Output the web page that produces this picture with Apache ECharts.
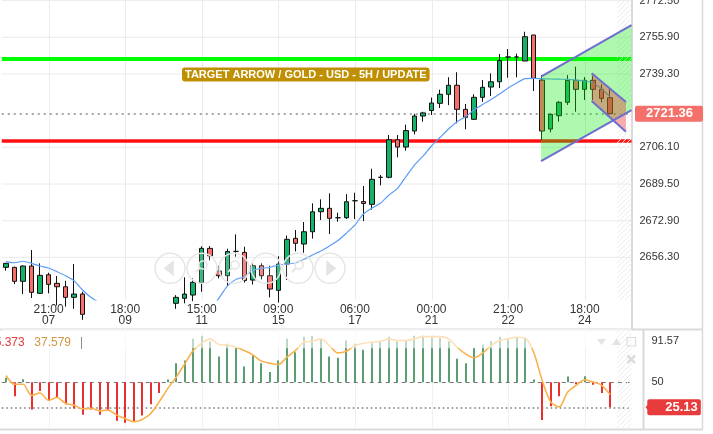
<!DOCTYPE html>
<html><head><meta charset="utf-8">
<script src="https://cdn.jsdelivr.net/npm/echarts@6/dist/echarts.min.js"></script>
<style>html,body{margin:0;padding:0;background:#fff}#c{width:713px;height:434px}</style>
</head><body><div id="c"></div>
<script>
// ---------- data ----------
const slotCount = 74;
const tickIndex = [5, 14, 23, 32, 41, 50, 59, 68];
const tickTime = ['21:00', '18:00', '15:00', '09:00', '06:00', '00:00', '21:00', '18:00'];
const tickDay = ['07', '09', '11', '15', '17', '21', '22', '24'];
const priceTicks = [2656.30, 2672.90, 2689.50, 2706.10, 2739.30, 2755.90, 2772.50];
const oscTicks = [50, 91.57];
// [open, close, low, high]
const candles = [
  [2651.78, 2653.59, 2650.24, 2653.80], [2651.78, 2645.45, 2644.22, 2652.05], [2645.45, 2652.37, 2639.70, 2652.69],
  [2652.37, 2640.47, 2637.90, 2659.61], [2640.01, 2648.16, 2639.70, 2653.59], [2648.43, 2644.09, 2640.01, 2649.34],
  [2644.54, 2643.00, 2634.50, 2647.84], [2643.00, 2638.20, 2634.00, 2645.72], [2638.20, 2639.70, 2633.00, 2653.28],
  [2639.70, 2630.50, 2628.00, 2640.74], [2630.00, 2625.00, 2621.00, 2633.00], [2625.00, 2619.00, 2615.00, 2628.00],
  [2619.00, 2622.00, 2616.00, 2625.00], [2622.00, 2612.00, 2609.00, 2624.00], [2612.00, 2608.00, 2604.00, 2615.00],
  [2608.00, 2611.00, 2605.00, 2614.00], [2611.00, 2617.00, 2609.00, 2620.00], [2617.00, 2624.00, 2615.00, 2627.00],
  [2624.00, 2630.00, 2622.00, 2633.00], [2630.00, 2634.00, 2628.00, 2636.00], [2635.50, 2638.20, 2633.00, 2639.20],
  [2637.75, 2639.70, 2635.50, 2647.26], [2639.24, 2644.99, 2636.50, 2646.80], [2644.90, 2660.38, 2640.74, 2661.30],
  [2660.38, 2657.00, 2654.95, 2661.43], [2650.11, 2647.98, 2646.80, 2652.51], [2647.98, 2658.95, 2643.20, 2660.20],
  [2659.00, 2659.00, 2656.58, 2666.72], [2658.57, 2645.80, 2644.90, 2661.11], [2646.03, 2652.51, 2644.00, 2653.59],
  [2652.51, 2647.98, 2646.30, 2653.59], [2647.98, 2641.96, 2638.20, 2652.50], [2641.37, 2653.28, 2635.80, 2656.80],
  [2653.28, 2664.46, 2646.03, 2666.20], [2664.91, 2662.65, 2659.00, 2668.67], [2662.33, 2667.90, 2658.39, 2672.30],
  [2667.90, 2676.95, 2664.80, 2680.76], [2676.95, 2678.49, 2673.20, 2682.57], [2678.49, 2673.97, 2666.86, 2685.28],
  [2674.24, 2674.24, 2672.43, 2676.50], [2674.24, 2681.48, 2673.65, 2684.90], [2681.93, 2681.93, 2673.65, 2685.55],
  [2681.57, 2680.67, 2672.70, 2688.59], [2680.30, 2691.62, 2677.90, 2696.40], [2692.53, 2692.53, 2688.90, 2693.57],
  [2692.53, 2709.55, 2692.07, 2711.68], [2709.55, 2706.24, 2701.58, 2711.68], [2706.24, 2713.70, 2704.57, 2716.40],
  [2713.49, 2720.28, 2711.99, 2721.30], [2720.28, 2721.70, 2717.70, 2722.22], [2722.77, 2726.16, 2720.73, 2728.65],
  [2726.03, 2730.14, 2723.90, 2732.20], [2730.10, 2734.20, 2725.20, 2737.84], [2734.20, 2723.31, 2716.97, 2740.10],
  [2723.31, 2719.69, 2714.26, 2725.70], [2718.78, 2728.74, 2718.46, 2730.14], [2728.74, 2733.27, 2726.75, 2736.57],
  [2733.40, 2735.80, 2729.33, 2739.60], [2735.80, 2745.40, 2732.95, 2748.34], [2746.99, 2746.99, 2737.62, 2750.61],
  [2747.00, 2747.00, 2737.80, 2748.50], [2745.18, 2756.18, 2745.18, 2758.44], [2756.95, 2737.34, 2731.59, 2756.95],
  [2736.57, 2713.49, 2709.41, 2738.84], [2714.39, 2721.05, 2712.90, 2721.50], [2720.41, 2726.48, 2717.70, 2727.07],
  [2726.48, 2736.44, 2725.26, 2738.84], [2736.44, 2732.36, 2722.22, 2742.60], [2732.36, 2736.44, 2727.52, 2737.90],
  [2736.44, 2732.36, 2727.52, 2738.50], [2732.36, 2728.29, 2726.48, 2734.63], [2728.56, 2721.36, 2721.20, 2732.50]
];
const movingAvg = [
  2654.41, 2653.87, 2654.54, 2653.59, 2652.37, 2651.47, 2649.79, 2647.98, 2645.72, 2641.51, 2638.11, 2635.62,
  2632.5, 2629.5, 2627.0, 2625.0, 2623.5, 2622.5, 2622.5, 2623.0, 2624.0, 2625.5, 2627.5, 2630.0,
  2633.0, 2637.75, 2643.32, 2646.26, 2647.53, 2650.42, 2651.33, 2651.78, 2652.82, 2653.28, 2653.73, 2655.40,
  2657.35, 2659.16, 2661.43, 2663.92, 2667.31, 2670.93, 2675.91, 2678.63, 2680.76, 2684.51, 2687.55, 2692.89,
  2698.09, 2702.17, 2706.70, 2710.54, 2714.39, 2717.70, 2719.96, 2722.99, 2725.48, 2727.75, 2730.24, 2732.95,
  2735.22, 2737.25, 2737.34, 2737.16, 2737.03, 2736.94, 2736.85, 2736.57, 2736.12, 2735.22, 2732.50, 2728.88
];
const oscValue = [
  54.6, 36.0, 53.0, 23.0, 41.4, 31.5, 34.8, 28.2, 24.0, 17.6, 23.0, 17.6, 21.6, 11.7, 9.7, 10.4, 17.0, 28.2,
  39.4, 52.7, 69.1, 71.8, 93.3, 96.5, 90.9, 75.7, 88.3, 85.0, 65.8, 76.7, 69.0, 60.2, 71.8, 93.3, 80.0, 95.5,
  96.5, 93.3, 75.7, 74.4, 91.6, 88.3, 82.4, 88.9, 90.9, 95.5, 90.9, 91.6, 96.5, 96.5, 94.9, 94.2, 90.9, 73.4,
  69.1, 84.3, 87.6, 90.9, 95.5, 93.3, 94.9, 93.3, 52.7, 12.4, 26.2, 36.1, 55.9, 48.0, 56.0, 47.6, 39.4, 25.13
];
const oscSignal = [
  56.8, 48.0, 48.0, 37.0, 39.4, 32.1, 34.8, 28.9, 27.2, 23.6, 24.0, 21.6, 22.3, 17.3, 14.0, 10.7, 13.0, 19.0,
  30.5, 43.7, 55.2, 68.4, 81.6, 88.9, 93.3, 87.6, 87.2, 84.9, 81.6, 77.3, 71.1, 69.1, 67.7, 75.0, 81.6, 89.9,
  90.9, 93.3, 86.6, 79.3, 81.0, 86.6, 88.9, 89.9, 90.9, 93.3, 91.6, 91.6, 93.3, 95.5, 95.5, 95.5, 93.3, 84.9,
  78.3, 74.4, 79.0, 86.6, 91.6, 93.3, 94.9, 94.2, 80.0, 52.0, 30.5, 25.5, 40.4, 47.0, 52.6, 50.3, 47.0, 37.579
];
const resistanceLevel = 2746.1;
const supportLevel = 2709.1;
const lastPrice = 2721.36;
const lastOsc = 25.13;
const oscMid = 50;
const oscPaleAbove = 84;
const oscLegend = ['25.373', '37.579'];
// channel anchors: [slot index, price]
const bigChannel = [[62.87, 2738.07], [73.5, 2761.47], [73.5, 2722.99], [62.87, 2699.90]];
const smallWedge = [[68.82, 2739.61], [72.85, 2726.61], [72.85, 2713.17], [68.82, 2727.07]];
const futureFrom = 71.8;
const titleText = 'TARGET ARROW / GOLD - USD - 5H / UPDATE';

// ---------- chart ----------
const FONT = "'Liberation Sans', Arial, sans-serif";
const cats = Array.from({length: slotCount}, (_, i) => String(i));
const chart = echarts.init(document.getElementById('c'), null, {renderer: 'canvas'});

const pc = document.createElement('canvas');
pc.width = 5; pc.height = 5;
const g = pc.getContext('2d');
g.strokeStyle = '#ececec'; g.lineWidth = 1;
g.beginPath(); g.moveTo(-1, 6); g.lineTo(6, -1); g.stroke();
const hatchPattern = {image: pc, repeat: 'repeat'};

function vLines(color) {
  return function (params, api) {
    const cs = params.coordSys;
    const x = Math.round(api.coord([api.value(0), api.value(1)])[0]) + 0.5;
    return {type: 'line', shape: {x1: x, y1: cs.y, x2: x, y2: cs.y + cs.height}, style: {stroke: color, lineWidth: 1}};
  };
}
function hLines(params, api) {
  const cs = params.coordSys;
  const y = api.coord([0, api.value(1)])[1];
  return {type: 'line', shape: {x1: cs.x, y1: y, x2: cs.x + cs.width, y2: y}, style: {stroke: '#ebebeb', lineWidth: 1}};
}
function renderChannel(params, api) {
  const p = bigChannel.map(v => api.coord(v));
  const s = smallWedge.map(v => api.coord(v));
  const edge = (a, b) => ({type: 'line', shape: {x1: a[0], y1: a[1], x2: b[0], y2: b[1]}, style: {stroke: '#6e6ed0', lineWidth: 2}});
  return {type: 'group', children: [
    {type: 'polygon', shape: {points: p}, style: {fill: 'rgba(20,235,20,0.34)'}},
    {type: 'polygon', shape: {points: s}, style: {fill: 'rgba(235,45,45,0.38)'}},
    edge(p[0], p[1]), edge(p[3], p[2]), edge(s[0], s[1]), edge(s[3], s[2])
  ]};
}
function renderHatch(params, api) {
  const cs = params.coordSys;
  const x0 = api.coord([api.value(0), api.value(1)])[0];
  return {type: 'rect', shape: {x: x0, y: cs.y, width: cs.x + cs.width - x0, height: cs.height}, style: {fill: hatchPattern}};
}
function renderHisto(params, api) {
  const i = api.value(0), v = api.value(1);
  const a = api.coord([i, oscMid]), b = api.coord([i, v]);
  const x = Math.round(a[0]);
  return {type: 'line', shape: {x1: x, y1: a[1], x2: x, y2: b[1]},
    style: {stroke: v >= oscMid ? '#5a9e72' : '#e8302f', lineWidth: 2}};
}
function renderPale(params, api) {
  const cs = params.coordSys;
  const yb = api.coord([0, api.value(1)])[1];
  return {type: 'rect', shape: {x: cs.x, y: cs.y, width: cs.width, height: yb - cs.y}, style: {fill: 'rgba(255,255,255,0.6)'}};
}

const gridLine = '#d9d9d9';
const graphics = [
  {type: 'line', shape: {x1: 632, y1: 0, x2: 632, y2: 329}, style: {stroke: gridLine, lineWidth: 2}},
  {type: 'line', shape: {x1: 702.5, y1: 0, x2: 702.5, y2: 429}, style: {stroke: gridLine, lineWidth: 1.5}},
  {type: 'line', shape: {x1: 0, y1: 329.5, x2: 703, y2: 329.5}, style: {stroke: gridLine, lineWidth: 2}},
  {type: 'line', shape: {x1: 0, y1: 429.5, x2: 703, y2: 429.5}, style: {stroke: gridLine, lineWidth: 2}},
  {type: 'line', shape: {x1: 643.5, y1: 329, x2: 643.5, y2: 430}, style: {stroke: gridLine, lineWidth: 2}},
  {type: 'text', z: 50, style: {text: titleText, x: 182, y: 67.5, fill: '#fff', font: 'bold 11px ' + FONT,
    backgroundColor: '#bf8f00', padding: [2, 3, 1, 3], borderRadius: 3}},
  {type: 'text', z: 50, style: {text: oscLegend[0], x: -12, y: 343, verticalAlign: 'middle', fill: '#e53935', font: '12px ' + FONT}},
  {type: 'text', z: 50, style: {text: oscLegend[1], x: 34.3, y: 343, verticalAlign: 'middle', fill: '#d29646', font: '12px ' + FONT}},
  {type: 'text', z: 50, style: {text: '|', x: 80, y: 343, verticalAlign: 'middle', fill: '#888', font: '12px ' + FONT}},
  // indicator pane tool icons
  {type: 'polygon', z: 50, shape: {points: [[597, 339], [606, 339], [601.5, 345]]}, style: {fill: '#e3e3e3'}},
  {type: 'polygon', z: 50, shape: {points: [[612, 345], [621, 345], [616.5, 338]]}, style: {fill: '#e3e3e3'}},
  {type: 'rect', z: 50, shape: {x: 627, y: 337.5, width: 8.5, height: 8.5}, style: {fill: 'none', stroke: '#dcdcdc', lineWidth: 1.2}},
  {type: 'line', z: 50, shape: {x1: 627.5, y1: 355.5, x2: 635, y2: 363}, style: {stroke: '#dcdcdc', lineWidth: 2.5}},
  {type: 'line', z: 50, shape: {x1: 635, y1: 355.5, x2: 627.5, y2: 363}, style: {stroke: '#dcdcdc', lineWidth: 2.5}}
];
// navigation buttons
[170, 202, 234, 266, 298, 330].forEach((cx, k) => {
  graphics.push({type: 'circle', z: 40, shape: {cx: cx, cy: 268.3, r: 15}, style: {fill: 'rgba(255,255,255,0.15)', stroke: '#e6e6e6', lineWidth: 1.5}});
  const ic = {z: 41, style: {fill: '#e4e4e4', stroke: '#e4e4e4', lineWidth: 1.6}};
  if (k === 0) graphics.push(Object.assign({type: 'polygon', shape: {points: [[cx - 5, 268.3], [cx + 3, 262], [cx + 3, 274.6]]}}, ic));
  else if (k === 5) graphics.push(Object.assign({type: 'polygon', shape: {points: [[cx + 5, 268.3], [cx - 3, 262], [cx - 3, 274.6]]}}, ic));
  else if (k !== 3) {
    graphics.push({type: 'circle', z: 41, shape: {cx: cx + 1, cy: 265, r: 4}, style: {fill: 'none', stroke: '#e4e4e4', lineWidth: 1.6}});
    graphics.push({type: 'line', z: 41, shape: {x1: cx - 2, y1: 268, x2: cx - 6, y2: 272}, style: {stroke: '#e4e4e4', lineWidth: 1.8}});
  }
});

const option = {
  animation: false,
  backgroundColor: '#fff',
  textStyle: {fontFamily: FONT},
  grid: [
    {left: 1.75, top: 0, width: 629.75, height: 300, outerBoundsMode: 'none', containLabel: false},
    {left: 1.75, top: 329, width: 629.75, height: 100, outerBoundsMode: 'none', containLabel: false}
  ],
  xAxis: [
    {type: 'category', gridIndex: 0, data: cats, boundaryGap: true,
      axisLine: {show: false}, axisTick: {show: false}, splitLine: {show: false},
      axisLabel: {interval: (i) => tickIndex.includes(i), color: '#333', fontSize: 12, lineHeight: 11, margin: 4,
        formatter: (v, i) => { const k = tickIndex.indexOf(i); return k < 0 ? '' : tickTime[k] + '\n' + tickDay[k]; }}},
    {type: 'category', gridIndex: 1, data: cats, boundaryGap: true, show: false},
    {type: 'value', gridIndex: 0, min: -0.5, max: slotCount - 0.5, show: false},
    {type: 'value', gridIndex: 1, min: -0.5, max: slotCount - 0.5, show: false}
  ],
  yAxis: [
    {type: 'value', gridIndex: 0, position: 'right', min: 2637.0, max: 2772.8,
      axisLine: {show: false}, axisTick: {show: false}, splitLine: {show: false},
      axisLabel: {customValues: priceTicks, formatter: v => v.toFixed(2), color: '#333', fontSize: 11, margin: 8}},
    {type: 'value', gridIndex: 1, position: 'right', min: 3.5, max: 103.1,
      axisLine: {show: false}, axisTick: {show: false}, splitLine: {show: false},
      axisLabel: {customValues: oscTicks, formatter: v => v === 50 ? '50' : v.toFixed(2), color: '#333', fontSize: 11, margin: 20}}
  ],
  graphic: graphics,
  series: [
    {type: 'custom', xAxisIndex: 0, yAxisIndex: 0, z: 0, silent: true, renderItem: vLines('#ebebeb'),
      data: tickIndex.map(i => [i, 2700])},
    {type: 'custom', xAxisIndex: 0, yAxisIndex: 0, z: 0, silent: true, renderItem: hLines,
      data: priceTicks.map(v => [0, v])},
    {type: 'candlestick', xAxisIndex: 0, yAxisIndex: 0, z: 3, barWidth: 5, clip: true,
      itemStyle: {color: '#14b169', color0: '#f56e69', borderColor: '#111', borderColor0: '#111', borderColorDoji: '#111', borderWidth: 1},
      data: candles},
    {type: 'line', xAxisIndex: 0, yAxisIndex: 0, z: 4, data: movingAvg, showSymbol: false, smooth: 0.2, clip: true,
      lineStyle: {color: '#5b9cf6', width: 1.2},
      markLine: {z: 1, silent: true, symbol: ['none', 'none'], animation: false,
        data: [
          {yAxis: resistanceLevel, lineStyle: {color: '#00ff00', width: 4, type: 'solid'}, label: {show: false}},
          {yAxis: supportLevel, lineStyle: {color: '#ff1010', width: 3.5, type: 'solid'}, label: {show: false}},
          {yAxis: lastPrice, lineStyle: {color: '#8a8a8a', width: 1.5, type: [2, 4]},
            label: {show: true, position: 'end', distance: 3.5, formatter: () => lastPrice.toFixed(2), color: '#fff',
              fontWeight: 'bold', fontSize: 13, fontFamily: FONT, backgroundColor: '#f5706a', padding: [2, 10, 1, 11], borderRadius: 2}}
        ]}},
    {type: 'custom', xAxisIndex: 2, yAxisIndex: 0, z: 9, silent: true, renderItem: renderHatch, data: [[futureFrom, 2700]]},
    {type: 'custom', xAxisIndex: 2, yAxisIndex: 0, z: 10, silent: true, renderItem: renderChannel, data: [[0, 2700]]},
    // indicator pane
    {type: 'custom', xAxisIndex: 1, yAxisIndex: 1, z: 0, silent: true, renderItem: vLines('#f1f1f1'),
      data: tickIndex.map(i => [i, 50])},
    {type: 'custom', xAxisIndex: 1, yAxisIndex: 1, z: 3, silent: true, renderItem: renderHisto,
      data: oscValue.map((v, i) => [i, v]),
      markLine: {z: 1, silent: true, symbol: ['none', 'none'], animation: false,
        data: [
          {yAxis: oscMid, lineStyle: {color: '#777', width: 1, type: [4, 4]}, label: {show: false}},
          {yAxis: lastOsc, lineStyle: {color: '#777', width: 1.5, type: [1.5, 3]},
            label: {show: true, position: 'end', distance: 15.8, formatter: () => lastOsc.toFixed(2), color: '#fff',
              fontWeight: 'bold', fontSize: 13, fontFamily: FONT, backgroundColor: '#e83b3b', padding: [2, 3, 1, 18], borderRadius: 2}}
        ]}},
    {type: 'line', xAxisIndex: 1, yAxisIndex: 1, z: 4, data: oscSignal, showSymbol: false, smooth: 0.3,
      lineStyle: {color: '#fbb14b', width: 1.6}},
    {type: 'custom', xAxisIndex: 3, yAxisIndex: 1, z: 5, silent: true, renderItem: renderPale, data: [[0, oscPaleAbove]]},
    {type: 'custom', xAxisIndex: 3, yAxisIndex: 1, z: 6, silent: true, renderItem: renderHatch, data: [[futureFrom, 50]]}
  ]
};
chart.setOption(option);

// small pointer on the oscillator value tag, placed from the axis scale
const tagY = chart.convertToPixel({yAxisIndex: 1}, lastOsc);
chart.setOption({graphic: graphics.concat([
  {type: 'polygon', z: 60, shape: {points: [[645.5, tagY], [648.5, tagY - 3.5], [648.5, tagY + 3.5]]}, style: {fill: '#e83b3b'}}
])});
</script>
</body></html>
